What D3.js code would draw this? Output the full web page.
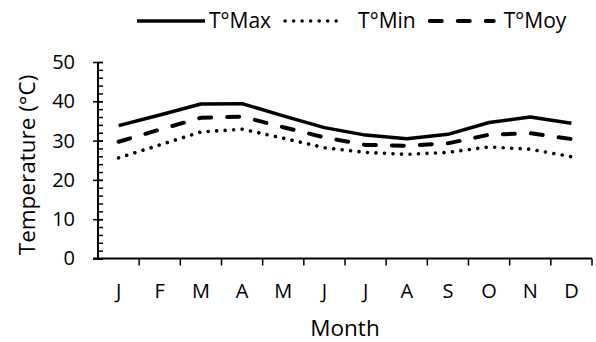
<!DOCTYPE html>
<html><head><meta charset="utf-8">
<script src="https://cdn.jsdelivr.net/npm/d3@7"></script>
<style>body{margin:0;background:#fff}svg text{font-family:"Open Sans",sans-serif;fill:#000}</style>
</head><body><svg id="c" width="596" height="342"></svg>
<script>
const months = ["J","F","M","A","M","J","J","A","S","O","N","D"];
const tMax = [33.8,36.5,39.3,39.4,36.3,33.3,31.4,30.5,31.6,34.6,36.0,34.4];
const tMin = [25.6,28.9,32.2,32.9,30.6,28.2,27.0,26.5,27.0,28.4,27.8,25.9];
const tMoy = [29.7,32.8,35.8,36.1,33.4,30.8,28.9,28.7,29.3,31.5,31.9,30.4];
const yTicks = [0,10,20,30,40,50];
const seriesNames = ["T°Max","T°Min","T°Moy"];

const FS = 20, FL = 21, FT = 22.5;
const svg = d3.select("#c");
const L = 98, R = 592, T = 62, B = 258.5;
const x = d3.scaleBand().domain(d3.range(12)).range([L, R]);
const y = d3.scaleLinear().domain([0, 50]).range([B, T]);

// y minor ticks (inside)
svg.append("g").attr("transform", `translate(${L},0)`)
  .call(d3.axisRight(y).tickValues(d3.range(0, 51, 2)).tickSize(5).tickFormat(""))
  .call(g => g.select(".domain").remove())
  .selectAll("line").attr("stroke", "#000").attr("stroke-width", 1.5);
// y major
const ya = svg.append("g").attr("transform", `translate(${L},0)`)
  .call(d3.axisLeft(y).tickValues(yTicks).tickSize(5).tickPadding(18));
ya.selectAll(".tick line").attr("x2", 5).attr("x1", -5).attr("stroke-width", 1.5);
ya.select(".domain").attr("stroke-width", 2).attr("d", `M0,${T}V${B}`);
ya.selectAll("text").attr("font-size", FS).attr("font-family", "Open Sans");

// x axis
const xa = svg.append("g").attr("transform", `translate(0,${B})`)
  .call(d3.axisBottom(x).tickFormat(i => months[i]).tickSize(0).tickPadding(25));
xa.select(".domain").attr("d", `M${L-5},0H${R}`).attr("stroke-width", 2);
xa.selectAll("text").attr("font-size", FS).attr("font-family", "Open Sans");
svg.append("g").selectAll("line").data(d3.range(1, 13)).join("line")
  .attr("x1", i => x(i) ?? R).attr("x2", i => x(i) ?? R)
  .attr("y1", B).attr("y2", B + 7).attr("stroke", "#000").attr("stroke-width", 1.5);

const line = d3.line().x((d, i) => x(i) + x.bandwidth() / 2).y(d => y(d));
const styles = [
  {w: 3.5, dash: null, cap: "butt"},
  {w: 3.6, dash: "0.01 8.5", cap: "round"},
  {w: 4, dash: "12 16", cap: "round"}
];
[tMax, tMin, tMoy].forEach((s, k) => {
  svg.append("path").attr("d", line(s)).attr("fill", "none").attr("stroke", "#000")
    .attr("stroke-width", styles[k].w).attr("stroke-dasharray", styles[k].dash)
    .attr("stroke-linecap", styles[k].cap).attr("stroke-linejoin", "round");
});

// legend
const legW = [68, 63, 68], legGapAfterSym = [4, 12, 8], legGapAfterText = [12, 12, 0];
const leg = svg.append("g");
let cx = 137;
seriesNames.forEach((n, k) => {
  const off = styles[k].cap === "round" ? 2 : 0;
  leg.append("line").attr("x1", cx + off).attr("x2", cx + legW[k] - off).attr("y1", 21).attr("y2", 21)
    .attr("stroke", "#000").attr("stroke-width", styles[k].w)
    .attr("stroke-dasharray", styles[k].dash).attr("stroke-linecap", styles[k].cap);
  cx += legW[k] + legGapAfterSym[k];
  const t = leg.append("text").attr("x", cx).attr("y", 21).attr("dy", "0.35em")
    .attr("font-size", FL).text(n);
  cx += t.node().getComputedTextLength() + legGapAfterText[k];
});

svg.append("text").attr("x", (L + R) / 2).attr("y", 336).attr("text-anchor", "middle")
  .attr("font-size", FT).text("Month");
svg.append("text").attr("transform", `translate(34.5,165) rotate(-90)`)
  .attr("text-anchor", "middle").attr("font-size", FT).text("Temperature (°C)");
</script></body></html>
